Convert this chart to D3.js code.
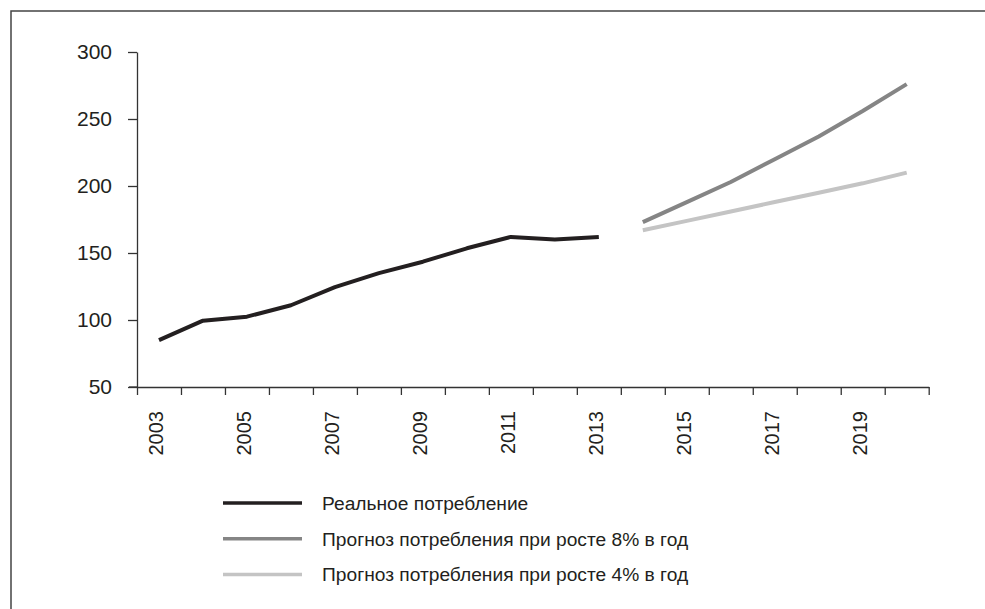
<!DOCTYPE html>
<html>
<head>
<meta charset="utf-8">
<script src="https://cdn.jsdelivr.net/npm/d3@7"></script>
<style>
  body { margin: 0; background: #fff; }
  svg { display: block; font-family: 'Liberation Sans', Arial, sans-serif; }
</style>
</head>
<body>
<svg id="chart"></svg>
<script>
const years = d3.range(2003, 2021);
const realYears = d3.range(2003, 2014);
const realValues = [85, 99.5, 102.5, 111, 124.5, 135, 143.5, 153.5, 162, 160, 162];
const forecastYears = d3.range(2014, 2021);
const forecast8 = [173, 188, 203, 220, 237, 256, 276];
const forecast4 = [167, 174, 181, 188, 195, 202, 210];
const yTicks = [50, 100, 150, 200, 250, 300];
const xLabels = [2003, 2005, 2007, 2009, 2011, 2013, 2015, 2017, 2019];
const legendLabels = [
  'Реальное потребление',
  'Прогноз потребления при росте 8% в год',
  'Прогноз потребления при росте 4% в год'
];
const colors = ['#231f20', '#858585', '#c4c4c4'];

const width = 985;
const height = 609;
const textColor = '#231f20';

const svg = d3.select('#chart')
  .attr('width', width)
  .attr('height', height);

// frame (runs off the right and bottom edge)
svg.append('rect')
  .attr('x', 11)
  .attr('y', 11)
  .attr('width', 1100)
  .attr('height', 800)
  .attr('fill', 'none')
  .attr('stroke', '#444')
  .attr('stroke-width', 1.5);

// band edges at half years, points at the year centres
const x = d3.scaleLinear()
  .domain([2002.5, 2020.5])
  .range([137, 928.7]);

const y = d3.scaleLinear()
  .domain([50, 300])
  .range([387, 52]);

const yAxis = svg.append('g')
  .attr('transform', `translate(${x.range()[0]},0)`)
  .call(d3.axisLeft(y).tickValues(yTicks).tickSize(9).tickSizeOuter(0).tickPadding(16));
yAxis.selectAll('text')
  .attr('font-size', 21)
  .attr('font-family', 'Liberation Sans, Arial, sans-serif')
  .attr('fill', textColor);

const xAxis = svg.append('g')
  .attr('transform', `translate(0,${y.range()[0]})`)
  .call(d3.axisBottom(x)
    .tickValues(d3.range(2002.5, 2021, 1))
    .tickFormat('')
    .tickSize(8)
    .tickSizeOuter(0));

[yAxis, xAxis].forEach(g => {
  g.select('.domain').attr('stroke', '#333').attr('stroke-width', 1.3);
  g.selectAll('.tick line').attr('stroke', '#333').attr('stroke-width', 1.3);
});

// x axis stretches left to meet the 50 tick
svg.append('line')
  .attr('x1', x.range()[0] - 8)
  .attr('x2', x.range()[0])
  .attr('y1', y.range()[0])
  .attr('y2', y.range()[0])
  .attr('stroke', '#333')
  .attr('stroke-width', 1.3);

svg.append('g')
  .selectAll('text')
  .data(xLabels)
  .enter()
  .append('text')
  .attr('transform', d => `translate(${x(d)},${y.range()[0] + 24}) rotate(-90)`)
  .attr('dy', '0.2em')
  .attr('text-anchor', 'end')
  .attr('font-size', 20)
  .attr('fill', textColor)
  .text(d => d);

const line = d3.line()
  .x(d => x(d[0]))
  .y(d => y(d[1]));

const series = [
  d3.zip(realYears, realValues),
  d3.zip(forecastYears, forecast8),
  d3.zip(forecastYears, forecast4)
];

svg.append('g')
  .selectAll('path')
  .data(series)
  .enter()
  .append('path')
  .attr('fill', 'none')
  .attr('stroke', (d, i) => colors[i])
  .attr('stroke-width', 4)
  .attr('stroke-linejoin', 'round')
  .attr('d', line);

// legend
const legend = svg.append('g')
  .selectAll('g')
  .data(legendLabels)
  .enter()
  .append('g')
  .attr('transform', (d, i) => `translate(223, ${503 + i * 35.8})`);

legend.append('line')
  .attr('x1', 0)
  .attr('x2', 79)
  .attr('stroke', (d, i) => colors[i])
  .attr('stroke-width', 3.5);

legend.append('text')
  .attr('x', 99)
  .attr('dy', '0.35em')
  .attr('font-size', 19.2)
  .attr('fill', textColor)
  .text(d => d);
</script>
</body>
</html>
